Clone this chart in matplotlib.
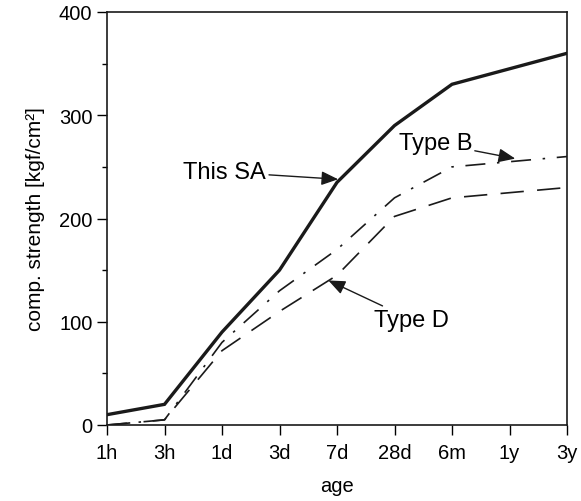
import numpy as np
import matplotlib
matplotlib.use("Agg")
import matplotlib.pyplot as plt
from matplotlib.ticker import MultipleLocator

plt.rcParams['font.family'] = ['Liberation Sans', 'DejaVu Sans']

ages = ['1h', '3h', '1d', '3d', '7d', '28d', '6m', '1y', '3y']
this_sa = [10, 20, 90, 150, 235, 290, 330, 345, 360]
type_b = [0, 5, 80, 130, 170, 220, 250, 255, 260]
type_d = [0, 5, 72, 110, 145, 202, 220, 225, 230]

x = np.arange(len(ages))

fig = plt.figure(figsize=(5.81, 5.02), dpi=100)
ax = fig.add_axes([107 / 581, 1 - 426 / 502, 460 / 581, 413 / 502])

ax.plot(x, this_sa, color='#1a1a1a', lw=2.4, solid_joinstyle='miter')
ax.plot(x, type_b, color='#1a1a1a', lw=1.2, dashes=(12, 7, 1.5, 7))
ax.plot(x, type_d, color='#1a1a1a', lw=1.2, dashes=(14, 8))

ax.set_xlim(0, 8)
ax.set_ylim(0, 400)
ax.set_xticks(x)
ax.set_xticklabels(ages)
ax.yaxis.set_major_locator(MultipleLocator(100))
ax.yaxis.set_minor_locator(MultipleLocator(50))
ax.tick_params(axis='both', which='major', labelsize=14.5, length=7, width=1, direction='out')
ax.tick_params(axis='x', which='major', pad=6)
ax.tick_params(axis='y', which='minor', length=3.5, width=1, direction='out')
for s in ax.spines.values():
    s.set_linewidth(1.2)
    s.set_color('#1a1a1a')

ax.set_xlabel('age', fontsize=14.5, labelpad=10)
ax.set_ylabel('comp. strength [kgf/cm²]', fontsize=15, labelpad=10)

arrow = dict(arrowstyle='-|>,head_length=0.6,head_width=0.25', color='#1a1a1a', lw=1.0,
             shrinkA=0, shrinkB=0)
ax.annotate('This SA', xy=(4.02, 238), xytext=(1.33, 245), fontsize=17,
            ha='left', va='center', arrowprops=arrow)
ax.annotate('Type B', xy=(7.1, 258), xytext=(5.07, 273), fontsize=17,
            ha='left', va='center', arrowprops=arrow)
ax.annotate('Type D', xy=(3.85, 140), xytext=(4.65, 102), fontsize=17,
            ha='left', va='center', arrowprops=arrow)

fig.savefig('out.png', dpi=100)
